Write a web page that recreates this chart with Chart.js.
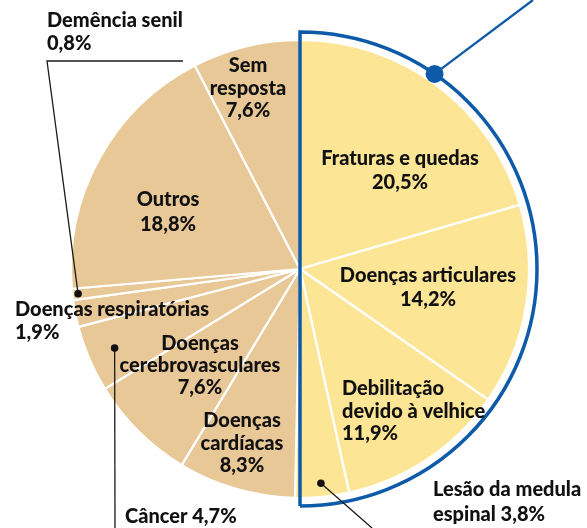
<!DOCTYPE html>
<html><head><meta charset="utf-8">
<script src="https://cdn.jsdelivr.net/npm/chart.js@4.4.1/dist/chart.umd.min.js"></script>
<style>html,body{margin:0;padding:0;background:#fff;overflow:hidden}#wrap{width:587px;height:528px}</style>
</head><body><div id="wrap"><canvas id="c" width="587" height="528"></canvas></div>
<script>
// ---- data ----
const categories = ["Fraturas e quedas","Doenças articulares","Debilitação devido à velhice","Lesão da medula espinal","Doenças cardíacas","Doenças cerebrovasculares","Câncer","Doenças respiratórias","Demência senil","Outros","Sem resposta"];
const values = [20.5, 14.2, 11.9, 3.8, 8.3, 7.6, 4.7, 1.9, 0.8, 18.8, 7.6];
const valueLabels = ["20,5%","14,2%","11,9%","3,8%","8,3%","7,6%","4,7%","1,9%","0,8%","18,8%","7,6%"];
const highlighted = [true, true, true, true, false, false, false, false, false, false, false];
// how each category name is broken into lines
const nameLines = [["Fraturas e quedas"],["Doenças articulares"],["Debilitação","devido à velhice"],["Lesão da medula","espinal"],["Doenças","cardíacas"],["Doenças","cerebrovasculares"],["Câncer"],["Doenças respiratórias"],["Demência senil"],["Outros"],["Sem","resposta"]];
const valueInline = [false,false,false,true,false,false,true,false,false,false,false];

// ---- layout / style (not data) ----
const YELLOW = "#FDE596", TAN = "#E9C898", BLUE = "#0D5BA8", INK = "#111111";
const FONT = "900 20px Lato";
const labelLayout = [
  {x:400, y:159, lh:24, align:"center"},
  {x:428, y:276, lh:24, align:"center"},
  {x:342, y:389, lh:22.5, align:"left"},
  {x:433, y:490, lh:25, align:"left"},
  {x:242, y:421, lh:22.5, align:"center"},
  {x:200, y:344, lh:22, align:"center"},
  {x:125, y:517, lh:22, align:"left"},
  {x:15,  y:310, lh:23, align:"left"},
  {x:47,  y:21,  lh:22.5, align:"left"},
  {x:168, y:200, lh:24.5, align:"center"},
  {x:248, y:66,  lh:22.5, align:"center"}
];
// leader dots: index, radius fraction, path of line after the dot
const leaders = [
  {i:8, rf:0.975, path:[[47,61],[183,61]]},
  {i:6, rf:0.88,  path:[[115,528]]},
  {i:3, rf:0.94,  path:[[372,528]]}
];

function lineList(i){
  const n = nameLines[i].slice();
  if (valueInline[i]) { n[n.length-1] = n[n.length-1] + " " + valueLabels[i]; return n; }
  n.push(valueLabels[i]); return n;
}

const overlay = {
  id: "overlay",
  afterDatasetsDraw(chart){
    const ctx = chart.ctx;
    const arcs = chart.getDatasetMeta(0).data;
    const cx = arcs[0].x, cy = arcs[0].y, R = arcs[0].outerRadius;
    ctx.save();
    // blue outline around highlighted half
    const Rb = R + 8;
    ctx.strokeStyle = BLUE; ctx.lineWidth = 3.5; ctx.lineJoin = "miter";
    ctx.beginPath();
    ctx.moveTo(cx, cy + Rb);
    ctx.lineTo(cx, cy - Rb);
    ctx.arc(cx, cy, Rb, -Math.PI/2, Math.PI/2, false);
    ctx.stroke();
    // blue pointer dot + line
    const a = -Math.PI/2 + 34.6*Math.PI/180;
    const dx = cx + Rb*Math.cos(a), dy = cy + Rb*Math.sin(a);
    ctx.lineWidth = 2.3;
    ctx.beginPath(); ctx.moveTo(dx, dy); ctx.lineTo(533, 0); ctx.stroke();
    ctx.fillStyle = BLUE;
    ctx.beginPath(); ctx.arc(dx, dy, 9, 0, Math.PI*2); ctx.fill();
    // leaders
    ctx.strokeStyle = "#1a1a1a"; ctx.fillStyle = "#111"; ctx.lineWidth = 1.3;
    leaders.forEach(L => {
      const arc = arcs[L.i];
      const m = (arc.startAngle + arc.endAngle)/2;
      const px = cx + R*L.rf*Math.cos(m), py = cy + R*L.rf*Math.sin(m);
      ctx.beginPath(); ctx.moveTo(px, py);
      L.path.forEach(p => ctx.lineTo(p[0], p[1]));
      ctx.stroke();
      ctx.beginPath(); ctx.arc(px, py, 3.8, 0, Math.PI*2); ctx.fill();
    });
    // labels
    ctx.fillStyle = INK; ctx.font = FONT; ctx.textBaseline = "middle";
    labelLayout.forEach((lay, i) => {
      ctx.textAlign = lay.align;
      lineList(i).forEach((t, k) => ctx.fillText(t, lay.x, lay.y + k*lay.lh));
    });
    ctx.restore();
  }
};

new Chart(document.getElementById("c"), {
  type: "pie",
  data: {
    labels: categories,
    datasets: [{
      data: values,
      backgroundColor: highlighted.map(h => h ? YELLOW : TAN),
      borderColor: "#ffffff",
      borderWidth: 2.2
    }]
  },
  options: {
    responsive: false,
    animation: false,
    radius: 229,
    layout: {padding: {left: 71, right: 58, top: 40, bottom: 30}},
    plugins: {legend: {display: false}, tooltip: {enabled: false}}
  },
  plugins: [overlay]
});
</script>
</body></html>
